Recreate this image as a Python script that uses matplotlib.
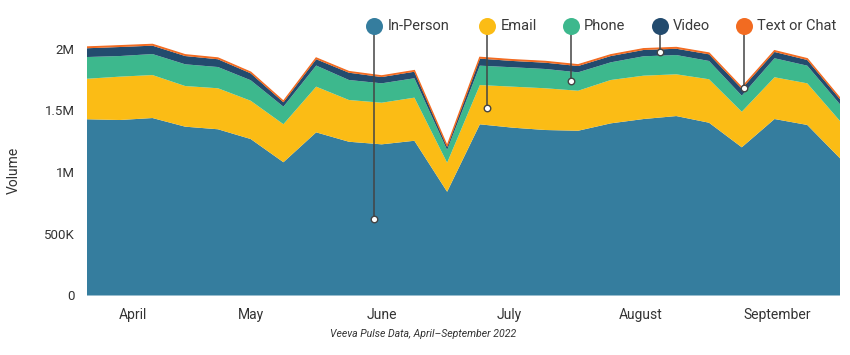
import matplotlib
matplotlib.use("Agg")
import matplotlib.pyplot as plt
import numpy as np
from matplotlib import font_manager

names = {f.name for f in font_manager.fontManager.ttflist}
base_font = "Roboto" if "Roboto" in names else "DejaVu Sans"
plt.rcParams['font.family'] = [base_font, 'DejaVu Sans']

# ---- data (millions, weekly Apr-Sep 2022) ----
in_person = [1.427, 1.421, 1.437, 1.367, 1.346, 1.267, 1.079, 1.321, 1.245, 1.224, 1.253, 0.840,
             1.386, 1.359, 1.340, 1.334, 1.394, 1.429, 1.453, 1.399, 1.200, 1.429, 1.381, 1.111]
email = [0.328, 0.351, 0.348, 0.329, 0.332, 0.310, 0.308, 0.370, 0.338, 0.337, 0.349, 0.235,
         0.318, 0.332, 0.338, 0.324, 0.351, 0.351, 0.338, 0.352, 0.288, 0.338, 0.337, 0.302]
phone = [0.176, 0.167, 0.170, 0.176, 0.172, 0.166, 0.142, 0.171, 0.162, 0.157, 0.157, 0.103,
         0.157, 0.157, 0.156, 0.149, 0.143, 0.157, 0.156, 0.148, 0.130, 0.154, 0.143, 0.135]
video = [0.071, 0.073, 0.068, 0.067, 0.063, 0.056, 0.036, 0.051, 0.059, 0.051, 0.053, 0.026,
         0.057, 0.051, 0.051, 0.051, 0.051, 0.051, 0.051, 0.054, 0.057, 0.051, 0.046, 0.042]
text_chat = [0.010, 0.010, 0.010, 0.010, 0.010, 0.009, 0.008, 0.010, 0.009, 0.009, 0.009, 0.007,
             0.010, 0.010, 0.010, 0.010, 0.010, 0.010, 0.010, 0.010, 0.009, 0.010, 0.010, 0.008]

series_names = ["In-Person", "Email", "Phone", "Video", "Text or Chat"]
colors = ["#357d9e", "#fbbc15", "#3db88d", "#234b6e", "#f26b21"]

month_labels = ["April", "May", "June", "July", "August", "September"]
month_pos = [1.4, 5.0, 9.0, 12.9, 16.9, 21.07]

y_ticks = [0, 0.5, 1.0, 1.5, 2.0]
y_tick_labels = ["0", "500K", "1M", "1.5M", "2M"]

# annotation anchors: x index of each leader line, and y (M) of its dot inside the area
label_x = [8.77, 12.22, 14.78, 17.5, 20.07]
dot_y = [0.62, 1.518, 1.737, 1.969, 1.678]

# ---- figure ----
fig = plt.figure(figsize=(8.5, 3.55), dpi=100)
ax = fig.add_axes([87/850, 59.5/355, (840-87)/850, 271.7/355])

x = np.arange(len(in_person))
data = np.array([in_person, email, phone, video, text_chat]) * 1e6
ax.stackplot(x, data, colors=colors, linewidth=0)
top = data.sum(axis=0)
ax.plot(x, top, color=colors[4], lw=1.0, solid_joinstyle='miter')

ax.set_xlim(0, len(in_person) - 1)
ax.set_ylim(0, 2.2e6)
for s in ax.spines.values():
    s.set_visible(False)

ax.set_yticks([v * 1e6 for v in y_ticks])
ax.set_yticklabels(y_tick_labels, fontsize=9.5, color="#333333")
ax.set_xticks(month_pos)
ax.set_xticklabels(month_labels, fontsize=10, color="#333333")
ax.tick_params(axis='both', length=0)
ax.tick_params(axis='y', pad=9)
ax.tick_params(axis='x', pad=9)

ax.set_ylabel("Volume", fontsize=10, color="#333333")
ax.yaxis.set_label_coords(-0.088, 0.46)

# legend-like annotations with leader lines
legend_y = 2.182e6
for i, name in enumerate(series_names):
    lx = label_x[i]
    ax.plot([lx, lx], [legend_y, dot_y[i] * 1e6], color="#444444", lw=1.1, clip_on=False, zorder=5)
    ax.scatter([lx], [dot_y[i] * 1e6], s=22, facecolor="white", edgecolor="#444444", lw=1.0,
               zorder=6, clip_on=False)
    ax.scatter([lx], [legend_y], s=150, color=colors[i], zorder=7, clip_on=False, lw=0)
    ax.annotate(name, (lx, legend_y), xytext=(9.5, 0), textcoords="offset points",
                ha="left", va="center", fontsize=10.5, color="#3a3a3a", annotation_clip=False)

fig.text(423/850, 1 - 334/355, "Veeva Pulse Data, April\u2013September 2022", ha="center", va="center",
         fontsize=7.6, style="italic", color="#333333")

fig.savefig("out.png", dpi=100)
